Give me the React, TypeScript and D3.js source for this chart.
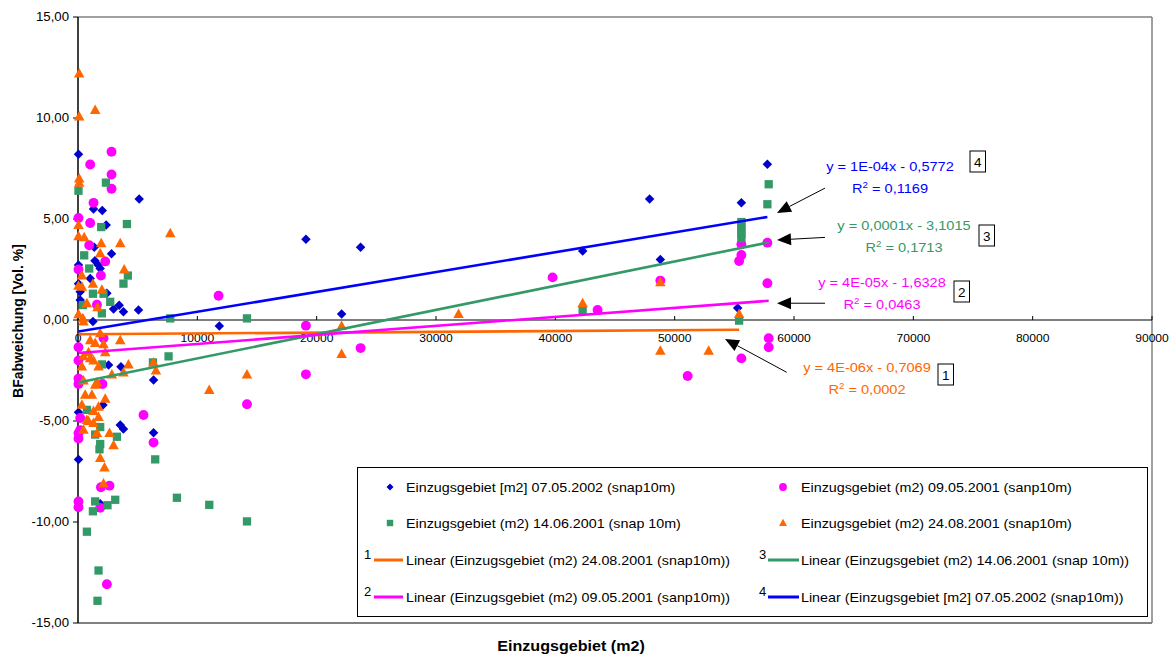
import React from 'react';
import * as d3 from 'd3';

// Scatter series: [Einzugsgebiet (m2), BF-Abweichung (Vol. %)]
const blue0705: [number, number][] = [
  [40, 8.2], [5130, 5.99], [1300, 5.5], [2030, 5.42], [2360, 4.7], [1360, 3.6],
  [2810, 3.28], [1420, 2.93], [1690, 2.72], [1860, 2.55], [40, 2.72], [1020, 2.06],
  [40, 1.8], [2420, 1.32], [185, 1.4], [185, 0.99], [3450, 0.73], [2980, 0.54],
  [3810, 0.41], [5070, 0.5], [1250, -0.08], [2560, -2.23], [3600, -2.31], [6330, -2.97],
  [2090, -4.21], [40, -4.57], [3540, -5.2], [3810, -5.4], [6330, -5.58], [40, -6.9],
  [1860, -9.1], [11840, -0.3], [19100, 4.0], [23680, 3.6], [22090, 0.3], [42290, 3.42],
  [47900, 5.99], [48800, 3.0], [55590, 5.81], [55280, 0.59], [57770, 7.71],
];

const magenta0905: [number, number][] = [
  [2810, 8.33], [1020, 7.7], [2810, 7.2], [2810, 6.5], [1300, 5.8], [40, 5.05],
  [1020, 4.8], [940, 3.7], [2280, 2.9], [40, 2.5], [1920, 2.2], [1585, 0.76],
  [2140, -0.9], [40, -1.35], [40, -2.0], [40, -2.9], [40, -3.17], [2050, -3.17],
  [5490, -4.7], [185, -4.85], [185, -5.45], [40, -5.6], [40, -5.87], [6330, -6.07],
  [1920, -8.28], [2640, -8.2], [40, -8.98], [40, -9.27], [1860, -9.3], [2420, -13.08],
  [11780, 1.2], [19100, -0.28], [23680, -1.39], [19100, -2.69], [14160, -4.17],
  [39770, 2.11], [43540, 0.5], [48800, 1.95], [51090, -2.77], [55590, 3.75],
  [55590, 3.22], [55400, 2.92], [55590, -1.9], [57770, 3.83], [57770, 1.82],
  [57880, -0.9], [57880, -1.35],
];

const green1406: [number, number][] = [
  [40, 6.4], [2340, 6.8], [1945, 4.6], [4100, 4.75], [520, 3.2], [940, 2.55],
  [4180, 2.2], [3810, 1.8], [1250, 1.3], [2140, 1.3], [2700, 0.9], [410, 0.74],
  [2000, 0.33], [7730, 0.08], [14160, 0.08], [2000, -2.2], [6280, -2.1], [7590, -1.8],
  [746, -4.45], [1860, -5.3], [3260, -5.78], [1440, -5.67], [1860, -6.14], [1800, -6.4],
  [6470, -6.9], [1440, -8.98], [3120, -8.9], [2470, -9.17], [1250, -9.47], [8290, -8.8],
  [11000, -9.15], [14160, -9.97], [746, -10.48], [1720, -12.4], [1635, -13.9],
  [42290, 0.5], [55400, -0.03], [55590, 4.85], [55590, 4.65], [55590, 4.45],
  [55590, 4.25], [55590, 4.05], [57880, 6.72], [57770, 5.73],
];

const orange2408: [number, number][] = [
  [100, 12.2], [100, 10.07], [1440, 10.4], [100, 7.0], [100, 6.8], [7730, 4.3],
  [40, 4.7], [40, 4.15], [520, 4.1], [1945, 3.8], [3540, 3.8], [1860, 3.3],
  [3870, 2.5], [327, 2.2], [40, 1.7], [327, 1.65], [1250, 1.8], [2000, 1.5],
  [746, 0.83], [1635, 0.63], [40, 0.28], [410, 0.08], [460, -0.08], [1860, -0.66],
  [3540, -1.0], [1020, -1.0], [1440, -1.14], [2140, -1.2], [880, -1.6], [2280, -1.6],
  [460, -1.8], [1300, -2.0], [1020, -1.9], [327, -2.3], [1720, -2.3], [4230, -2.2],
  [3810, -2.6], [2840, -2.7], [6330, -2.1], [6530, -2.5], [460, -3.0], [1585, -3.1],
  [1440, -3.2], [600, -3.7], [1165, -3.7], [2280, -3.9], [327, -4.2], [1720, -4.3],
  [1300, -4.5], [1720, -4.8], [746, -4.95], [880, -5.0], [1300, -5.1], [460, -5.43],
  [1585, -5.6], [2640, -5.6], [2980, -6.2], [1860, -6.83], [2220, -7.3], [2140, -8.1],
  [22090, -0.3], [22090, -1.68], [14160, -2.7], [11000, -3.47], [31890, 0.3],
  [42290, 0.83], [48800, 1.87], [48800, -1.52], [52850, -1.52], [55400, 0.3],
];

// Linear trend fits (slope, intercept)
const fitOrange = { slope: 4.0e-6, intercept: -0.7069 };
const fitMagenta = { slope: 4.47e-5, intercept: -1.6328 };
const fitGreen = { slope: 1.2e-4, intercept: -3.1015 };
const fitBlue = { slope: 9.83e-5, intercept: -0.5772 };

const xTicks = [0, 10000, 20000, 30000, 40000, 50000, 60000, 70000, 80000, 90000];
const yTicks = [-15, -10, -5, 0, 5, 10, 15];

const legendLabels = [
  'Einzugsgebiet [m2] 07.05.2002 (snap10m)',
  'Einzugsgebiet (m2) 09.05.2001 (sanp10m)',
  'Einzugsgebiet (m2) 14.06.2001 (snap 10m)',
  'Einzugsgebiet (m2) 24.08.2001 (snap10m)',
  'Linear (Einzugsgebiet (m2) 24.08.2001 (snap10m))',
  'Linear (Einzugsgebiet (m2) 14.06.2001 (snap 10m))',
  'Linear (Einzugsgebiet (m2) 09.05.2001 (sanp10m))',
  'Linear (Einzugsgebiet [m2] 07.05.2002 (snap10m))',
];

const eqLabels = [
  { eq: 'y = 1E-04x - 0,5772', r2: ' = 0,1169', num: '4' },
  { eq: 'y = 0,0001x - 3,1015', r2: ' = 0,1713', num: '3' },
  { eq: 'y = 4E-05x - 1,6328', r2: ' = 0,0463', num: '2' },
  { eq: 'y = 4E-06x - 0,7069', r2: ' = 0,0002', num: '1' },
];

const C_BLUE = '#0000CC';
const C_BLUE_LINE = '#0000FF';
const C_MAG = '#FF00FF';
const C_GREEN = '#339966';
const C_ORANGE = '#FF6600';

const FONT = 'Arial, "Liberation Sans", Helvetica, sans-serif';

type Shape = 'diamond' | 'circle' | 'square' | 'triangle';

function Marker({ shape, x, y, s, color }: { shape: Shape; x: number; y: number; s: number; color: string }) {
  if (shape === 'circle') return <circle cx={x} cy={y} r={s * 0.52} fill={color} />;
  if (shape === 'square')
    return <rect x={x - s * 0.46} y={y - s * 0.46} width={s * 0.92} height={s * 0.92} fill={color} />;
  if (shape === 'diamond') {
    const r = s * 0.5;
    return <path d={`M${x},${y - r}L${x + r},${y}L${x},${y + r}L${x - r},${y}Z`} fill={color} />;
  }
  const w = s * 1.05;
  const h = s * 0.95;
  return (
    <path d={`M${x},${y - h * 0.58}L${x + w / 2},${y + h * 0.42}L${x - w / 2},${y + h * 0.42}Z`} fill={color} />
  );
}

// Text drawn with a slight horizontal stretch (wide chart typography)
function SText({
  x,
  y,
  sx = 1,
  anchor = 'start',
  size,
  weight,
  color = '#000',
  children,
}: {
  x: number;
  y: number;
  sx?: number;
  anchor?: 'start' | 'middle' | 'end';
  size: number;
  weight?: string;
  color?: string;
  children: React.ReactNode;
}) {
  return (
    <text
      transform={`translate(${x},${y}) scale(${sx},1)`}
      textAnchor={anchor}
      fontSize={size}
      fontWeight={weight}
      fill={color}
    >
      {children}
    </text>
  );
}

function Arrow({ x1, y1, x2, y2 }: { x1: number; y1: number; x2: number; y2: number }) {
  const ang = Math.atan2(y2 - y1, x2 - x1);
  const len = 14;
  const hw = 6;
  const bx = x2 - len * Math.cos(ang);
  const by = y2 - len * Math.sin(ang);
  const px = -Math.sin(ang) * hw;
  const py = Math.cos(ang) * hw;
  return (
    <g>
      <line x1={x1} y1={y1} x2={bx} y2={by} stroke="#000" strokeWidth={1} />
      <path d={`M${x2},${y2}L${bx + px},${by + py}L${bx - px},${by - py}Z`} fill="#000" />
    </g>
  );
}

export default function App() {
  const x = d3.scaleLinear().domain([0, 90000]).range([78, 1152]);
  const y = d3.scaleLinear().domain([-15, 15]).range([623, 17]);

  const series = [
    { data: blue0705, shape: 'diamond' as Shape, color: C_BLUE, s: 9.5 },
    { data: magenta0905, shape: 'circle' as Shape, color: C_MAG, s: 9.5 },
    { data: green1406, shape: 'square' as Shape, color: C_GREEN, s: 9 },
    { data: orange2408, shape: 'triangle' as Shape, color: C_ORANGE, s: 10 },
  ];

  const trends = [
    { data: orange2408, fit: fitOrange, color: C_ORANGE },
    { data: green1406, fit: fitGreen, color: C_GREEN },
    { data: magenta0905, fit: fitMagenta, color: C_MAG },
    { data: blue0705, fit: fitBlue, color: C_BLUE_LINE },
  ];

  const yFmt = (v: number) => d3.format('.2f')(v).replace('.', ',').replace('−', '-');

  // equation blocks: centre x, baseline, colour, number box left/top
  const eqPos = [
    { cx: 890, by: 171, color: C_BLUE_LINE, bx: 970, bt: 151 },
    { cx: 904, by: 230, color: C_GREEN, bx: 979, bt: 225 },
    { cx: 882, by: 287, color: C_MAG, bx: 954, bt: 281 },
    { cx: 867, by: 372, color: C_ORANGE, bx: 938, bt: 364 },
  ];

  // arrows in data space: [from x, from y, to x, to y]
  const arrows: [number, number, number, number][] = [
    [62600, 6.53, 58575, 5.3],
    [62600, 4.09, 58575, 3.96],
    [62600, 0.83, 58575, 0.83],
    [59390, -2.59, 54220, -0.94],
  ];

  const legRows = [487, 523, 560, 597];
  const col1 = { sym: 390, text: 406, num: 364, l0: 374, l1: 403 };
  const col2 = { sym: 783, text: 801, num: 759, l0: 768, l1: 799 };
  const LS = 13;
  const LX = 1.1;

  return (
    <svg
      width={1173}
      height={657}
      style={{ position: 'absolute', left: 0, top: 0, background: '#fff' }}
      fontFamily={FONT}
    >
      <rect x={0} y={0} width={1173} height={657} fill="#fff" />
      {/* plot frame */}
      <line x1={78} y1={17} x2={1152} y2={17} stroke="#808080" strokeWidth={1.5} />
      <line x1={1152} y1={17} x2={1152} y2={623} stroke="#808080" strokeWidth={1.5} />
      <line x1={78} y1={623} x2={1152} y2={623} stroke="#808080" strokeWidth={2} />

      {/* y axis */}
      <line x1={x(0)} y1={y(15)} x2={x(0)} y2={y(-15)} stroke="#000" strokeWidth={1.5} />
      {yTicks.map((t) => (
        <g key={t}>
          <line x1={x(0) - 5} x2={x(0)} y1={y(t)} y2={y(t)} stroke="#000" strokeWidth={1} />
          <SText x={69} y={y(t) + 4} anchor="end" size={12} sx={1.1}>
            {yFmt(t)}
          </SText>
        </g>
      ))}

      {/* x axis at y = 0 */}
      <line x1={x(0)} y1={y(0)} x2={x(90000)} y2={y(0)} stroke="#000" strokeWidth={1.2} />
      {xTicks.map((t) => (
        <g key={t}>
          <line x1={x(t)} x2={x(t)} y1={y(0) - 4} y2={y(0)} stroke="#000" strokeWidth={1} />
          <SText x={x(t)} y={y(0) + 22} anchor="middle" size={11.5} sx={1.05}>
            {t}
          </SText>
        </g>
      ))}

      {/* markers */}
      {series.map((s, i) => (
        <g key={i}>
          {s.data.map((d, j) => (
            <Marker key={j} shape={s.shape} x={x(d[0])} y={y(d[1])} s={s.s} color={s.color} />
          ))}
        </g>
      ))}

      {/* trend lines over each series' x range */}
      {trends.map((t, i) => {
        const [x0, x1] = d3.extent(t.data, (d) => d[0]) as [number, number];
        const pts: [number, number][] = [
          [x(x0), y(t.fit.slope * x0 + t.fit.intercept)],
          [x(x1), y(t.fit.slope * x1 + t.fit.intercept)],
        ];
        const path = d3.line()(pts) || '';
        return <path key={i} d={path} stroke={t.color} strokeWidth={2.6} fill="none" />;
      })}

      {/* regression equations */}
      {eqLabels.map((e, i) => {
        const p = eqPos[i];
        return (
          <g key={i}>
            <SText x={p.cx} y={p.by} anchor="middle" size={13.5} sx={1.08} color={p.color}>
              {e.eq}
            </SText>
            <SText x={p.cx} y={p.by + 21.5} anchor="middle" size={13.5} sx={1.08} color={p.color}>
              R<tspan dy={-5} fontSize={9}>2</tspan>
              <tspan dy={5}>{e.r2}</tspan>
            </SText>
            <rect x={p.bx} y={p.bt} width={15.5} height={21} fill="#fff" stroke="#000" strokeWidth={1} />
            <SText x={p.bx + 7.75} y={p.bt + 15.5} anchor="middle" size={13.5}>
              {e.num}
            </SText>
          </g>
        );
      })}

      {arrows.map((a, i) => (
        <Arrow key={i} x1={x(a[0])} y1={y(a[1])} x2={x(a[2])} y2={y(a[3])} />
      ))}

      {/* legend */}
      <rect x={357.5} y={467.5} width={790} height={149} fill="#fff" stroke="#000" strokeWidth={1} />
      <g>
        <Marker shape="diamond" x={col1.sym} y={legRows[0]} s={7} color={C_BLUE} />
        <SText x={col1.text} y={legRows[0] + 5} size={LS} sx={LX}>{legendLabels[0]}</SText>
        <Marker shape="circle" x={col2.sym} y={legRows[0]} s={7.5} color={C_MAG} />
        <SText x={col2.text} y={legRows[0] + 5} size={LS} sx={LX}>{legendLabels[1]}</SText>

        <Marker shape="square" x={col1.sym} y={legRows[1]} s={7} color={C_GREEN} />
        <SText x={col1.text} y={legRows[1] + 5} size={LS} sx={LX}>{legendLabels[2]}</SText>
        <Marker shape="triangle" x={col2.sym} y={legRows[1]} s={7.5} color={C_ORANGE} />
        <SText x={col2.text} y={legRows[1] + 5} size={LS} sx={LX}>{legendLabels[3]}</SText>

        <SText x={col1.num} y={legRows[2] - 1} size={LS}>1</SText>
        <line x1={col1.l0} x2={col1.l1} y1={legRows[2]} y2={legRows[2]} stroke={C_ORANGE} strokeWidth={3} />
        <SText x={col1.text} y={legRows[2] + 5} size={LS} sx={LX}>{legendLabels[4]}</SText>
        <SText x={col2.num} y={legRows[2] - 1} size={LS}>3</SText>
        <line x1={col2.l0} x2={col2.l1} y1={legRows[2]} y2={legRows[2]} stroke={C_GREEN} strokeWidth={3} />
        <SText x={col2.text} y={legRows[2] + 5} size={LS} sx={LX}>{legendLabels[5]}</SText>

        <SText x={col1.num} y={legRows[3] - 1} size={LS}>2</SText>
        <line x1={col1.l0} x2={col1.l1} y1={legRows[3]} y2={legRows[3]} stroke={C_MAG} strokeWidth={3} />
        <SText x={col1.text} y={legRows[3] + 5} size={LS} sx={LX}>{legendLabels[6]}</SText>
        <SText x={col2.num} y={legRows[3] - 1} size={LS}>4</SText>
        <line x1={col2.l0} x2={col2.l1} y1={legRows[3]} y2={legRows[3]} stroke={C_BLUE_LINE} strokeWidth={3} />
        <SText x={col2.text} y={legRows[3] + 5} size={LS} sx={LX}>{legendLabels[7]}</SText>
      </g>

      {/* axis titles */}
      <text
        transform="translate(23,321) rotate(-90)"
        textAnchor="middle"
        fontSize={14}
        fontWeight="bold"
        fill="#000"
      >
        BFabweichung [Vol. %]
      </text>
      <SText x={571} y={651} anchor="middle" size={14} sx={1.15} weight="bold">
        Einzugsgebiet (m2)
      </SText>
    </svg>
  );
}
